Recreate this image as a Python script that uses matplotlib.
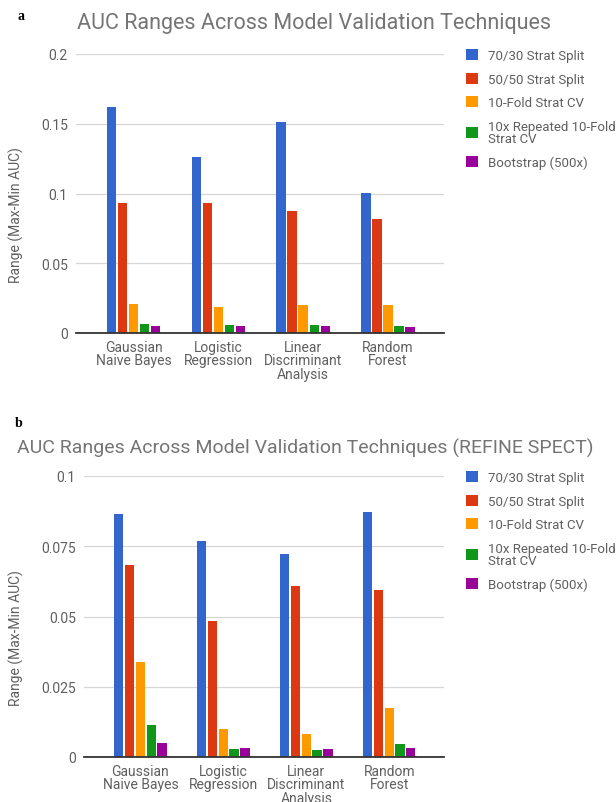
import matplotlib.pyplot as plt
import numpy as np

# ---- data ----
models = ["Gaussian\nNaive Bayes", "Logistic\nRegression",
          "Linear\nDiscriminant\nAnalysis", "Random\nForest"]
techniques = ["70/30 Strat Split", "50/50 Strat Split", "10-Fold Strat CV",
              "10x Repeated 10-Fold\nStrat CV", "Bootstrap (500x)"]
colors = ["#3366cc", "#dc3912", "#ff9900", "#109618", "#990099"]

# panel a (one list per technique, values for the four models)
a_7030 = [0.162, 0.126, 0.151, 0.1005]
a_5050 = [0.0935, 0.0935, 0.0875, 0.0818]
a_10fold = [0.0207, 0.0187, 0.0200, 0.0200]
a_rep10 = [0.0068, 0.0059, 0.0059, 0.0050]
a_boot = [0.0052, 0.0052, 0.0052, 0.0043]
a_ticks = [0, 0.05, 0.1, 0.15, 0.2]
a_ticklabels = ["0", "0.05", "0.1", "0.15", "0.2"]

# panel b (REFINE SPECT)
b_7030 = [0.0866, 0.0770, 0.0722, 0.0871]
b_5050 = [0.0684, 0.0484, 0.0610, 0.0593]
b_10fold = [0.0337, 0.0099, 0.0082, 0.0173]
b_rep10 = [0.0114, 0.0028, 0.0025, 0.0047]
b_boot = [0.0049, 0.0032, 0.0028, 0.0032]
b_ticks = [0, 0.025, 0.05, 0.075, 0.1]
b_ticklabels = ["0", "0.025", "0.05", "0.075", "0.1"]

W, H = 616, 803
plt.rcParams["font.family"] = ["Roboto", "DejaVu Sans"]
fig = plt.figure(figsize=(W / 100, H / 100), dpi=100)

tick_color = "#5f5f5f"
title_color = "#757575"


def draw_panel(left, bottom, right, top, series, ticks, ticklabels, leg_top):
    ax = fig.add_axes([left / W, 1 - bottom / H, (right - left) / W, (bottom - top) / H])
    x = np.arange(len(models))
    step, width = 0.13, 0.112
    for k, vals in enumerate(series):
        ax.bar(x + (k - 2) * step, vals, width, color=colors[k],
               label=techniques[k], zorder=3)
    ax.set_xlim(-0.68, 3.66)
    ax.set_ylim(ticks[0], ticks[-1])
    ax.set_yticks(ticks)
    ax.set_yticklabels(ticklabels)
    ax.set_xticks(x)
    ax.set_xticklabels(models, linespacing=0.95)
    ax.tick_params(length=0, labelsize=10, colors=tick_color)
    ax.tick_params(axis="y", pad=6)
    ax.tick_params(axis="x", pad=5)
    ax.grid(axis="y", color="#d6d6d6", linewidth=0.9, zorder=0)
    for s in ["top", "right", "left"]:
        ax.spines[s].set_visible(False)
    ax.spines["bottom"].set_color("#333333")
    ax.spines["bottom"].set_linewidth(1.3)
    ax.spines["bottom"].set_zorder(4)
    ax.set_ylabel("Range (Max-Min AUC)", fontsize=10, color=tick_color)
    # right edge of the rotated label sits near x = 24 px
    ax.yaxis.set_label_coords(-(left - 24) / (right - left), 0.426)
    leg = ax.legend(loc="upper left", bbox_to_anchor=(466 / W, 1 - leg_top / H),
                    bbox_transform=fig.transFigure, frameon=False, fontsize=9.5,
                    handlelength=0.9, handleheight=0.9, handletextpad=0.8,
                    labelspacing=0.8, borderpad=0, borderaxespad=0,
                    labelcolor=tick_color)
    for t in leg.get_texts():
        t.set_linespacing(0.9)
    return ax


draw_panel(76, 334, 444, 55,
           [a_7030, a_5050, a_10fold, a_rep10, a_boot],
           a_ticks, a_ticklabels, 50)
draw_panel(84, 758, 444, 477,
           [b_7030, b_5050, b_10fold, b_rep10, b_boot],
           b_ticks, b_ticklabels, 472)

fig.text(77 / W, 1 - 23 / H, "AUC Ranges Across Model Validation Techniques",
         fontsize=15.5, color=title_color, ha="left", va="center")
fig.text(17 / W, 1 - 448 / H,
         "AUC Ranges Across Model Validation Techniques (REFINE SPECT)",
         fontsize=14, color=title_color, ha="left", va="center")
fig.text(17 / W, 1 - 16 / H, "a", fontsize=10, fontweight="bold",
         family="Liberation Serif", ha="left", va="center")
fig.text(15 / W, 1 - 424 / H, "b", fontsize=10, fontweight="bold",
         family="Liberation Serif", ha="left", va="center")

fig.savefig("out.png", dpi=100)
